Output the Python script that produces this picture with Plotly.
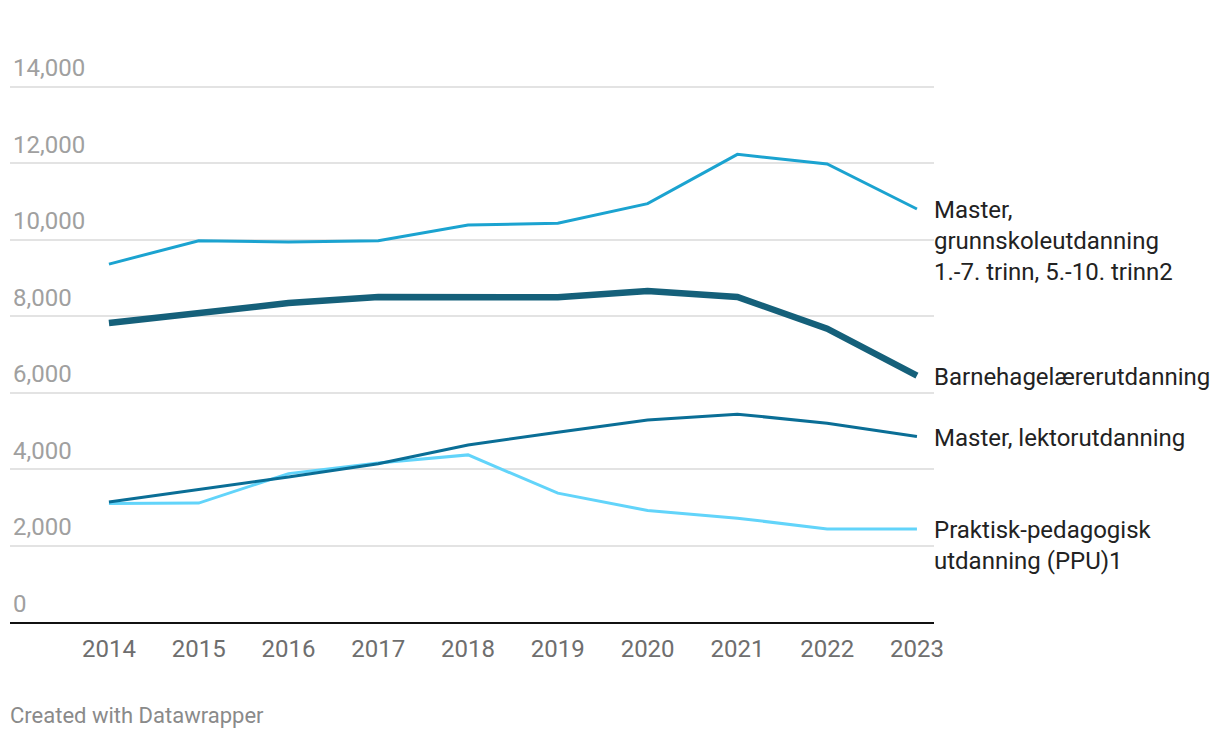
import plotly.graph_objects as go

years = [2014, 2015, 2016, 2017, 2018, 2019, 2020, 2021, 2022, 2023]

grunnskole = [9360, 9970, 9940, 9970, 10380, 10430, 10940, 12230, 11980, 10800]
barnehage = [7820, 8080, 8340, 8500, 8515, 8490, 8655, 8500, 7670, 6440]
lektor = [3140, 3470, 3790, 4140, 4630, 4960, 5285, 5435, 5200, 4850]
ppu = [3100, 3110, 3880, 4160, 4370, 3370, 2915, 2715, 2435, 2435]

series_names = [
    "Master,<br>grunnskoleutdanning<br>1.-7. trinn, 5.-10. trinn2",
    "Barnehagelærerutdanning",
    "Master, lektorutdanning",
    "Praktisk-pedagogisk<br>utdanning (PPU)1",
]
series_values = [grunnskole, barnehage, lektor, ppu]
series_colors = ["#1ba3d0", "#15607a", "#0a6e96", "#62d4fa"]
series_widths = [3, 6.5, 3, 3]

y_tickvals = [0, 2000, 4000, 6000, 8000, 10000, 12000, 14000]
y_ticktext = ["0", "2,000", "4,000", "6,000", "8,000", "10,000", "12,000", "14,000"]

FONT = "Roboto"

fig = go.Figure()
order = [3, 2, 0, 1]
for i in order:
    fig.add_trace(go.Scatter(
        x=years, y=series_values[i], mode="lines",
        line=dict(color=series_colors[i], width=series_widths[i]),
        hoverinfo="skip", showlegend=False,
    ))

for name, vals in zip(series_names, series_values):
    fig.add_annotation(
        x=years[-1], y=vals[-1], xref="x", yref="y",
        text=name, showarrow=False, xanchor="left", yanchor="top",
        xshift=15, yshift=15, align="left",
        font=dict(family=FONT, size=24, color="#222222"),
    )

fig.add_annotation(
    x=0, y=0, xref="paper", yref="paper", xanchor="left", yanchor="middle",
    text="Created with Datawrapper", showarrow=False,
    xshift=-2, yshift=-93,
    font=dict(family=FONT, size=22, color="#8a8a8a"),
)

fig.update_layout(
    width=1220, height=738,
    margin=dict(l=10, r=286, t=79, b=116),
    paper_bgcolor="white", plot_bgcolor="white",
    font=dict(family=FONT),
    xaxis=dict(
        range=[2012.898, 2023.19],
        tickvals=years, ticktext=[str(y) for y in years],
        showgrid=False, zeroline=False,
        showline=True, linecolor="#111111", linewidth=2,
        ticks="", tickfont=dict(family=FONT, size=24, color="#6e6e6e"),
        ticklabelstandoff=4,
    ),
    yaxis=dict(
        range=[0, 14200],
        tickvals=y_tickvals, ticktext=y_ticktext,
        showgrid=True, gridcolor="#e3e3e3", gridwidth=1.5,
        zeroline=False, showline=False, ticks="",
        ticklabelposition="inside top", ticklabeloverflow="allow",
        ticklabelshift=-2,
        tickfont=dict(family=FONT, size=24, color="#a0a0a0"),
    ),
)

fig.write_html("out.html")
